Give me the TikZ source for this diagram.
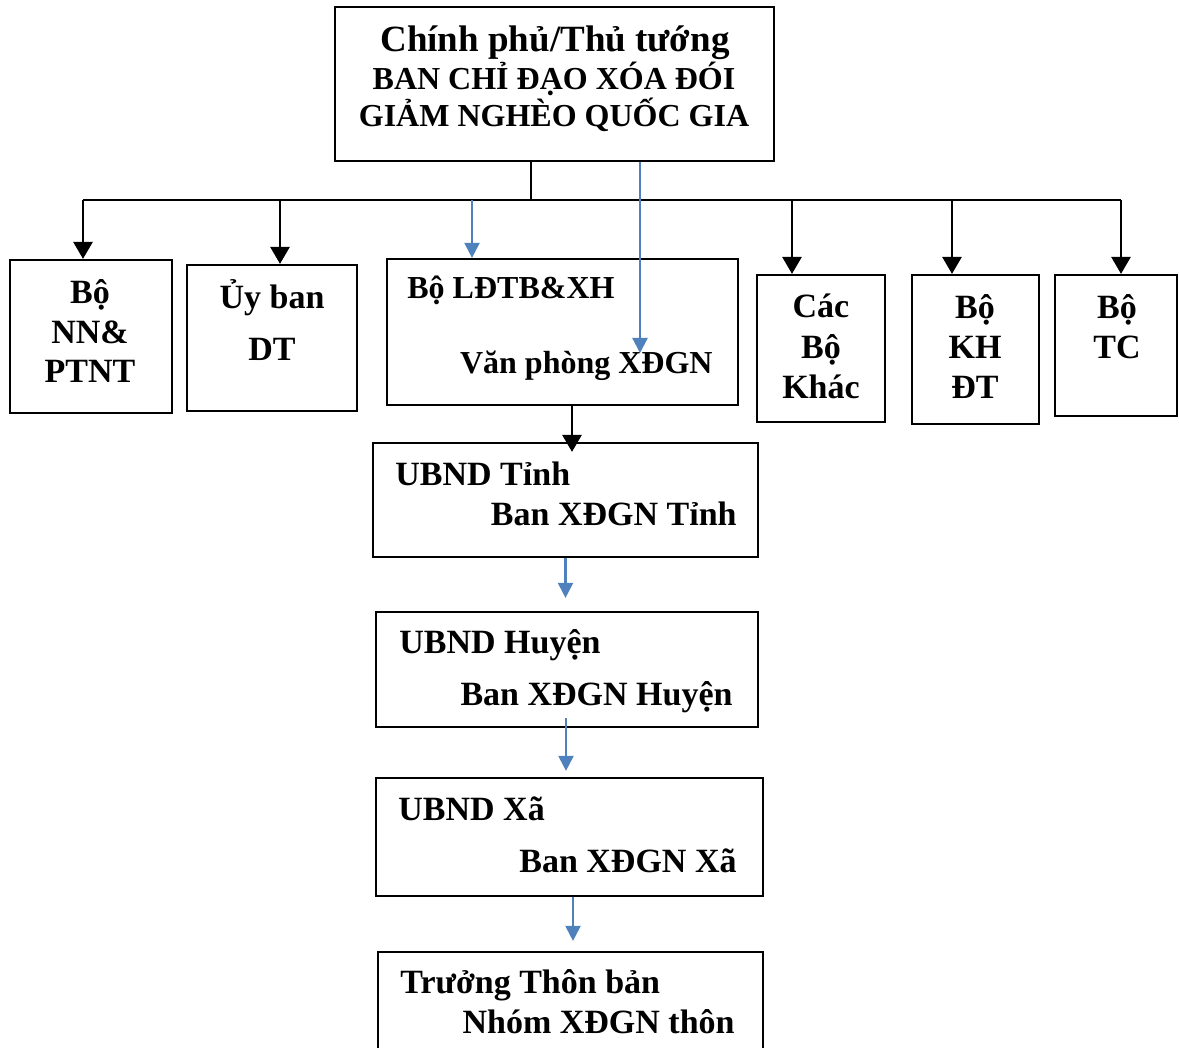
\documentclass[tikz,border=0pt]{standalone}
\usepackage{fontspec}
\setmainfont{Liberation Serif}
\usetikzlibrary{arrows.meta,positioning,fit}
\definecolor{lnblue}{RGB}{79,129,189}
\tikzset{
  box/.style={draw=black, line width=1.1pt, inner sep=0pt},
  ln/.style={black, line width=1.4pt},
  arr/.style={-{Triangle[length=8.5pt,width=9.5pt]}, black, line width=1.4pt},
  barr/.style={-{Triangle[length=7.5pt,width=7.5pt]}, lnblue, line width=1.1pt},
  txt/.style={inner sep=0pt, anchor=base, font=\fontsize{17}{20}\selectfont\bfseries},
  txts/.style={txt, font=\fontsize{16}{19}\selectfont\bfseries},
  txtb/.style={txt, font=\fontsize{18.5}{22}\selectfont\bfseries},
}

\begin{document}
\begin{tikzpicture}[x=0.5pt, y=-0.5pt]
  \path[use as bounding box] (0,0) rectangle (1179,1048);
  \clip (0,0) rectangle (1179,1048);

  % boxes
  \node[box, fit={(335,7) (774,161)}] (gov) {};
  \node[box, fit={(10,260) (172,413)}] (nn) {};
  \node[box, fit={(187,265) (357,411)}] (ub) {};
  \node[box, fit={(387,259) (738,405)}] (ld) {};
  \node[box, fit={(757,275) (885,422)}] (cac) {};
  \node[box, fit={(912,275) (1039,424)}] (kh) {};
  \node[box, fit={(1055,275) (1177,416)}] (tc) {};
  \node[box, fit={(373,443) (758,557)}] (tinh) {};
  \node[box, fit={(376,612) (758,727)}] (huyen) {};
  \node[box, fit={(376,778) (763,896)}] (xa) {};
  \node[box, fit={(378,952) (763,1070)}] (thon) {};

  % texts
  \node[txtb] (gov1) at (555,52) {Chính phủ/Thủ tướng};
  \node[txts] (gov2) at (554,90) {BAN CHỈ ĐẠO XÓA ĐÓI};
  \node[txts] (gov3) at (554,127) {GIẢM NGHÈO QUỐC GIA};

  \node[txt] (nn1) at (90,304) {Bộ};
  \node[txt] (nn2) at (90,344) {NN\&};
  \node[txt] (nn3) at (90,383) {PTNT};
  \node[txt] (ub1) at (272,309) {Ủy ban};
  \node[txt] (ub2) at (272,361) {DT};
  \node[txts, anchor=base west] (ld1) at (407,299) {Bộ LĐTB\&XH};
  \node[txts, anchor=base east] (ld2) at (713,373) {Văn phòng XĐGN};
  \node[txt] (cac1) at (821,318) {Các};
  \node[txt] (cac2) at (821,359) {Bộ};
  \node[txt] (cac3) at (821,399) {Khác};
  \node[txt] (kh1) at (975,319) {Bộ};
  \node[txt] (kh2) at (975,358) {KH};
  \node[txt] (kh3) at (975,399) {ĐT};
  \node[txt] (tc1) at (1117,319) {Bộ};
  \node[txt] (tc2) at (1117,359) {TC};

  \node[txt, anchor=base west] (tinh1) at (395,485) {UBND Tỉnh};
  \node[txt, anchor=base east] (tinh2) at (737,525) {Ban XĐGN Tỉnh};
  \node[txt, anchor=base west] (huyen1) at (399,653) {UBND Huyện};
  \node[txt, anchor=base east] (huyen2) at (733,705) {Ban XĐGN Huyện};
  \node[txt, anchor=base west] (xa1) at (398,820) {UBND Xã};
  \node[txt, anchor=base east] (xa2) at (737,872) {Ban XĐGN Xã};
  \node[txt, anchor=base west] (thon1) at (400,993) {Trưởng Thôn bản};
  \node[txt, anchor=base east] (thon2) at (735,1033) {Nhóm XĐGN thôn};

  % bus to the ministries
  \coordinate (stem) at (531,200);
  \coordinate (busL) at (83,200);
  \coordinate (busR) at (1121,200);
  \draw[ln] (gov.south -| stem) -- (stem);
  \draw[ln] (busL) -- (busR);
  \foreach \bx/\to in {83/nn, 280/ub, 792/cac, 952/kh, 1121/tc}{
    \coordinate (b\to) at (\bx,200);
    \draw[arr] (b\to) -- (b\to |- \to.north);
  }
  \coordinate (bld) at (472,200);
  \draw[barr] (bld) -- (bld |- ld.north);
  \coordinate (vp) at (640,353);
  \draw[barr] (gov.south -| vp) -- (vp);

  % down the chain
  \draw[arr, shorten >=-5pt] ([xshift=4.75pt]ld.south) -- ([xshift=4.75pt]ld.south |- tinh.north);
  \draw[barr, shorten >=6.5pt] (tinh.south) -- (tinh.south |- huyen.north);
  \draw[barr, shorten <=-5pt, shorten >=3pt] ([xshift=-0.5pt]huyen.south) -- ([xshift=-0.5pt]huyen.south |- xa.north);
  \draw[barr, shorten >=5pt] ([xshift=1.75pt]xa.south) -- ([xshift=1.75pt]xa.south |- thon.north);
\end{tikzpicture}
\end{document}
